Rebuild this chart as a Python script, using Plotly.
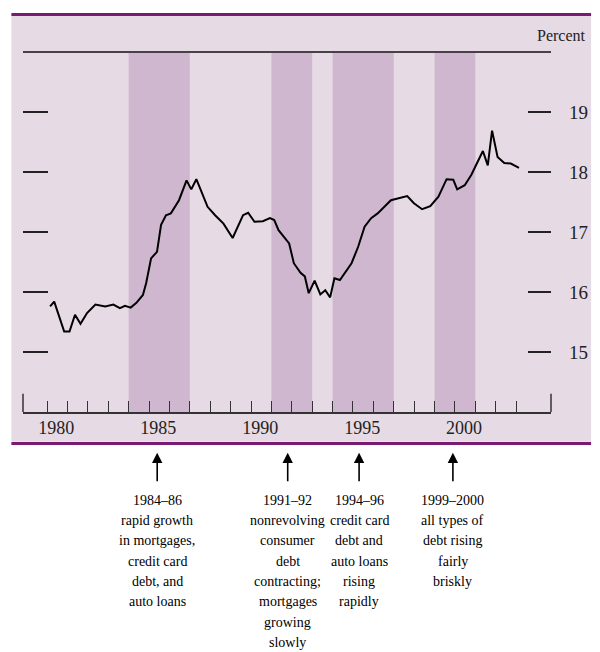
import plotly.graph_objects as go

# ---- data ----
years = [1980.15, 1980.35, 1980.84, 1981.1, 1981.37, 1981.64, 1981.96, 1982.37, 1982.85,
         1983.25, 1983.57, 1983.82, 1984.1, 1984.38, 1984.7, 1984.86, 1985.1, 1985.39,
         1985.59, 1985.83, 1986.07, 1986.47, 1986.84, 1987.07, 1987.32, 1987.87, 1988.24,
         1988.65, 1989.1, 1989.61, 1989.86, 1990.17, 1990.58, 1990.93, 1991.14, 1991.35,
         1991.87, 1992.1, 1992.43, 1992.64, 1992.83, 1993.12, 1993.4, 1993.64, 1993.88,
         1994.09, 1994.36, 1994.93, 1995.25, 1995.57, 1995.89, 1996.21, 1996.86, 1997.26,
         1997.66, 1997.99, 1998.39, 1998.79, 1999.19, 1999.59, 1999.92, 2000.11, 2000.48,
         2000.8, 2001.37, 2001.61, 2001.82, 2002.09, 2002.42, 2002.74, 2003.14]
percent = [15.76, 15.84, 15.34, 15.34, 15.62, 15.47, 15.65, 15.79, 15.76,
           15.79, 15.73, 15.77, 15.74, 15.82, 15.95, 16.15, 16.56, 16.67,
           17.12, 17.28, 17.31, 17.53, 17.86, 17.71, 17.88, 17.42, 17.28,
           17.14, 16.9, 17.28, 17.32, 17.17, 17.18, 17.23, 17.2, 17.03,
           16.81, 16.48, 16.32, 16.26, 15.98, 16.19, 15.96, 16.03, 15.91,
           16.23, 16.2, 16.48, 16.75, 17.09, 17.23, 17.31, 17.53, 17.56,
           17.6, 17.48, 17.38, 17.43, 17.59, 17.88, 17.87, 17.71, 17.78,
           17.95, 18.35, 18.11, 18.69, 18.25, 18.15, 18.14, 18.07]

band_starts = [1984, 1991, 1994, 1999]
band_ends = [1987, 1993, 1997, 2001]

y_ticks = [15, 16, 17, 18, 19]
x_label_years = [1980, 1985, 1990, 1995, 2000]
x_tick_years = list(range(1980, 2004))

notes = [
    ["1984–86", "rapid growth", "in mortgages,", "credit card", "debt, and", "auto loans"],
    ["1991–92", "nonrevolving", "consumer", "debt", "contracting;", "mortgages", "growing", "slowly"],
    ["1994–96", "credit card", "debt and", "auto loans", "rising", "rapidly"],
    ["1999–2000", "all types of", "debt rising", "fairly", "briskly"],
]
note_x = [1985.4, 1991.8, 1995.3, 1999.9]

# ---- layout geometry (pixels) ----
W, H = 600, 652
L, R, T, B = 23.3, 559.3, 51.7, 412.3
XR = [1978.82, 2004.71]
YR = [14, 20]
PANEL = "#e6dae5"
BAND = "#cfb8cf"
PURPLE = "#7b1a73"
SERIF = "Liberation Serif, Times New Roman, serif"


def px_to_paper_x(px):
    return (px - L) / (R - L)


def px_to_paper_y(py):
    return (B - py) / (B - T)


fig = go.Figure()
fig.add_trace(go.Scatter(x=years, y=percent, mode="lines",
                         line=dict(color="black", width=2), hoverinfo="skip",
                         showlegend=False))
# invisible traces on secondary axes
fig.add_trace(go.Scatter(x=[XR[0]], y=[YR[0]], xaxis="x2", mode="markers",
                         marker=dict(opacity=0), showlegend=False, hoverinfo="skip"))
fig.add_trace(go.Scatter(x=[XR[0]], y=[YR[0]], yaxis="y2", mode="markers",
                         marker=dict(opacity=0), showlegend=False, hoverinfo="skip"))

shapes = []
# panel background
shapes.append(dict(type="rect", xref="paper", yref="paper", layer="below",
                   x0=px_to_paper_x(11.5), x1=px_to_paper_x(600),
                   y0=px_to_paper_y(442), y1=px_to_paper_y(15.5),
                   fillcolor=PANEL, line=dict(width=0)))
# purple rules
for py in (14.2, 443.8):
    shapes.append(dict(type="line", xref="paper", yref="paper",
                       x0=px_to_paper_x(11.5), x1=px_to_paper_x(600),
                       y0=px_to_paper_y(py), y1=px_to_paper_y(py),
                       line=dict(color=PURPLE, width=3)))
# shaded periods
for s, e in zip(band_starts, band_ends):
    shapes.append(dict(type="rect", xref="x", yref="y", layer="below",
                       x0=s, x1=e, y0=YR[0], y1=YR[1],
                       fillcolor=BAND, line=dict(width=0)))
# top rule
shapes.append(dict(type="line", xref="paper", yref="paper", x0=0, x1=1, y0=1, y1=1,
                   line=dict(color="#4a4048", width=2)))
# end ticks of the time axis
for xp in (0, 1):
    shapes.append(dict(type="line", xref="paper", yref="paper", x0=xp, x1=xp,
                       y0=0, y1=px_to_paper_y(394), line=dict(color="#333", width=1.5)))
fig.update_layout(shapes=shapes)

# notes with arrows
annotations = []
for xv, lines in zip(note_x, notes):
    annotations.append(dict(x=xv, xref="x", y=px_to_paper_y(453), yref="paper",
                            text="", showarrow=True, ax=0, ay=30, axref="pixel",
                            ayref="pixel", arrowhead=2, arrowsize=1.3, arrowwidth=1.6,
                            arrowcolor="black"))
    for i, t in enumerate(lines):
        annotations.append(dict(x=xv, xref="x", y=px_to_paper_y(500.5 + i * 20.4),
                                yref="paper", text=t, showarrow=False,
                                xanchor="center", yanchor="middle",
                                font=dict(family=SERIF, size=14, color="black")))
annotations.append(dict(x=px_to_paper_x(597), xref="paper", y=px_to_paper_y(35),
                        yref="paper", text="Percent", showarrow=False,
                        xanchor="right", yanchor="middle",
                        font=dict(family=SERIF, size=16, color="#222")))
fig.update_layout(annotations=annotations)

fig.update_layout(
    width=W, height=H,
    margin=dict(l=L, r=W - R, t=T, b=H - B, pad=0),
    paper_bgcolor="white", plot_bgcolor=PANEL,
    xaxis=dict(range=XR, tickmode="array", tickvals=x_tick_years,
               ticks="inside", ticklen=11, tickwidth=1.3, tickcolor="#333",
               showticklabels=False, showgrid=False, zeroline=False,
               showline=True, linecolor="#333", linewidth=1.5),
    xaxis2=dict(range=XR, overlaying="x", side="bottom", anchor="y",
                tickmode="array", tickvals=[v + 0.45 for v in x_label_years],
                ticktext=[str(v) for v in x_label_years], ticks="",
                showgrid=False, zeroline=False, showline=False,
                ticklabelstandoff=3,
                tickfont=dict(family=SERIF, size=18, color="#222")),
    yaxis=dict(range=YR, side="right", tickmode="array", tickvals=y_ticks,
               ticktext=[str(v) for v in y_ticks], ticks="inside", ticklen=23,
               tickwidth=1.5, tickcolor="#222", showgrid=False, zeroline=False,
               showline=False, ticklabelstandoff=17,
               tickfont=dict(family=SERIF, size=19, color="#222")),
    yaxis2=dict(range=YR, overlaying="y", side="left", anchor="x",
                tickmode="array", tickvals=y_ticks, ticks="inside", ticklen=25,
                tickwidth=1.5, tickcolor="#222", showticklabels=False,
                showgrid=False, zeroline=False, showline=False),
)

fig.write_html("out.html", config={"displayModeBar": False},
               post_script="document.body.style.margin='0';"
                           "document.body.style.overflow='hidden';")
